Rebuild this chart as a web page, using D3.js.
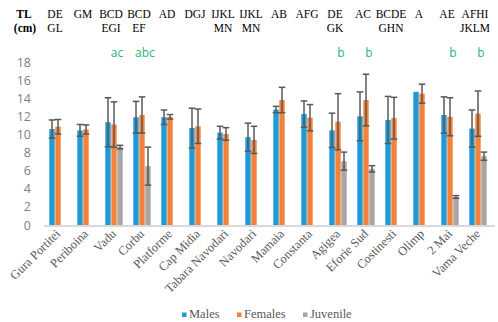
<!DOCTYPE html>
<html>
<head>
<meta charset="utf-8">
<script src="https://cdn.jsdelivr.net/npm/d3@7"></script>
<style>
  body { margin: 0; background: #fff; }
</style>
</head>
<body>
<div class="canvas"></div>
<script>
// sites along the coast
const sites = ['Gura Portitei', 'Periboina', 'Vadu', 'Corbu', 'Platforme', 'Cap Midia',
  'Tabara Navodari', 'Navodari', 'Mamaia', 'Constanta', 'Agigea', 'Eforie Sud',
  'Costinesti', 'Olimp', '2 Mai', 'Vama Veche'];

const series = ['Males', 'Females', 'Juvenile'];

// mean TL (cm) and error per series, null = no data
const males   = [10.6, 10.45, 11.35, 11.9, 11.9, 10.7, 10.2, 9.7, 12.75, 12.25, 10.45, 12.0, 11.6, 14.7, 12.15, 10.65];
const malesErr = [1.0, 0.65, 2.7, 1.75, 0.8, 2.2, 0.7, 1.55, 0.35, 1.45, 1.9, 2.7, 2.6, 0, 2.0, 2.05];
const females = [10.85, 10.55, 11.1, 12.15, 11.95, 10.9, 10.05, 9.4, 13.8, 11.85, 11.4, 13.8, 11.8, 14.5, 11.95, 12.3];
const femalesErr = [0.8, 0.5, 2.5, 2.0, 0.25, 1.9, 0.7, 1.5, 1.4, 1.45, 3.1, 2.85, 2.3, 1.05, 2.1, 2.5];
const juvenile = [null, null, 8.6, 6.5, null, null, null, null, null, null, 7.05, 6.2, null, null, 3.1, 7.6];
const juvenileErr = [0, 0, 0.2, 2.1, 0, 0, 0, 0, 0, 0, 1.0, 0.35, 0, 0, 0.15, 0.45];

// significance letters above each site (two rows) and juvenile letters
const topRow1 = ['DE', 'GM', 'BCD', 'BCD', 'AD', 'DGJ', 'IJKL', 'IJKL', 'AB', 'AFG', 'DE', 'AC', 'BCDE', 'A', 'AE', 'AFHI'];
const topRow2 = ['GL', '', 'EGI', 'EF', '', '', 'MN', 'MN', '', '', 'GK', '', 'GHN', '', '', 'JKLM'];
const juvLetters = ['', '', 'ac', 'abc', '', '', '', '', '', '', 'b', 'b', '', '', 'b', 'b'];

const yTicks = [0, 2, 4, 6, 8, 10, 12, 14, 16, 18];

const colors = { Males: '#1f9ad6', Females: '#f4823a', Juvenile: '#a6a6a6' };

const width = 498, height = 322;

const svg = d3.select('.canvas')
  .append('svg')
  .attr('width', width)
  .attr('height', height);

const x0 = d3.scaleBand()
  .domain(sites)
  .range([44, 492]);

const x1 = d3.scaleBand()
  .domain(series)
  .range([x0.bandwidth() / 2 - 9.3, x0.bandwidth() / 2 + 9.3])
  .padding(0.1);

const y = d3.scaleLinear()
  .domain([0, 18])
  .range([225, 62]);

// y axis labels only, no line
const yAxis = svg.append('g')
  .attr('transform', 'translate(31,0)')
  .call(d3.axisLeft(y).tickValues(yTicks).tickSize(0).tickPadding(0));
yAxis.select('.domain').remove();
yAxis.selectAll('text')
  .attr('fill', '#7f7f7f')
  .style('font-family', '"Open Sans", sans-serif')
  .style('font-size', '12.5px');

// rows of bars
const rows = sites.map((s, i) => ({
  site: s,
  vals: [
    { key: 'Males', v: males[i], e: malesErr[i] },
    { key: 'Females', v: females[i], e: femalesErr[i] },
    { key: 'Juvenile', v: juvenile[i], e: juvenileErr[i] }
  ].filter(d => d.v !== null)
}));

const groups = svg.selectAll('.grp')
  .data(rows)
  .enter()
  .append('g')
  .attr('class', 'grp')
  .attr('transform', d => `translate(${x0(d.site)},0)`);

groups.selectAll('rect')
  .data(d => d.vals)
  .enter()
  .append('rect')
  .attr('x', d => x1(d.key))
  .attr('width', x1.bandwidth())
  .attr('y', d => y(d.v))
  .attr('height', d => y(0) - y(d.v))
  .attr('fill', d => colors[d.key]);

// error bars
const err = groups.selectAll('.err')
  .data(d => d.vals.filter(v => v.e > 0))
  .enter()
  .append('g')
  .attr('class', 'err')
  .attr('stroke', '#595959')
  .attr('stroke-width', 1.5);

const cx = d => x1(d.key) + x1.bandwidth() / 2;
err.append('line')
  .attr('x1', cx).attr('x2', cx)
  .attr('y1', d => y(d.v + d.e)).attr('y2', d => y(d.v - d.e));
err.append('line')
  .attr('x1', d => cx(d) - 3.3).attr('x2', d => cx(d) + 3.3)
  .attr('y1', d => y(d.v + d.e)).attr('y2', d => y(d.v + d.e));
err.append('line')
  .attr('x1', d => cx(d) - 3.3).attr('x2', d => cx(d) + 3.3)
  .attr('y1', d => y(d.v - d.e)).attr('y2', d => y(d.v - d.e));

// baseline
svg.append('line')
  .attr('x1', 44).attr('x2', 495)
  .attr('y1', y(0) + 1).attr('y2', y(0) + 1)
  .attr('stroke', '#d9d9d9')
  .attr('stroke-width', 2);

// x labels rotated
svg.selectAll('.xlab')
  .data(sites)
  .enter()
  .append('text')
  .attr('class', 'xlab')
  .attr('text-anchor', 'end')
  .attr('transform', d => `translate(${x0(d) + x0.bandwidth() / 2 + 3},${y(0) + 9.5}) rotate(-45)`)
  .attr('fill', '#595959')
  .style('font-family', '"Liberation Serif", serif')
  .style('font-size', '12.5px')
  .text(d => d);

// top letters
const topText = (arr, yy) => svg.selectAll(null)
  .data(arr)
  .enter()
  .append('text')
  .attr('x', (d, i) => x0(sites[i]) + x0.bandwidth() / 2 - 3)
  .attr('y', yy)
  .attr('text-anchor', 'middle')
  .attr('fill', '#000')
  .style('font-family', '"Liberation Serif", serif')
  .style('font-size', '11.5px')
  .text(d => d);
topText(topRow1, 18);
topText(topRow2, 31.5);

svg.selectAll(null)
  .data(juvLetters)
  .enter()
  .append('text')
  .attr('x', (d, i) => x0(sites[i]) + x0.bandwidth() / 2 + 3)
  .attr('y', 56.5)
  .attr('text-anchor', 'middle')
  .attr('fill', '#2db37a')
  .style('font-family', '"Open Sans", sans-serif')
  .style('font-size', '12px')
  .text(d => d);

// axis title
svg.append('text')
  .attr('x', 24).attr('y', 18)
  .attr('text-anchor', 'middle')
  .style('font-family', '"Liberation Serif", serif')
  .style('font-size', '11.5px')
  .style('font-weight', 'bold')
  .text('TL');
svg.append('text')
  .attr('x', 25).attr('y', 31.5)
  .attr('text-anchor', 'middle')
  .style('font-family', '"Liberation Serif", serif')
  .style('font-size', '11.5px')
  .style('font-weight', 'bold')
  .text('(cm)');

// legend
const legendX = [182, 237, 303];
const legend = svg.selectAll('.leg')
  .data(series)
  .enter()
  .append('g')
  .attr('class', 'leg')
  .attr('transform', (d, i) => `translate(${legendX[i]},312)`);
legend.append('rect')
  .attr('width', 4.5).attr('height', 4.5)
  .attr('y', 0.5)
  .attr('fill', d => colors[d]);
legend.append('text')
  .attr('x', 7).attr('y', 6)
  .attr('fill', '#595959')
  .style('font-family', '"Liberation Serif", serif')
  .style('font-size', '12.5px')
  .text(d => d);
</script>
</body>
</html>
